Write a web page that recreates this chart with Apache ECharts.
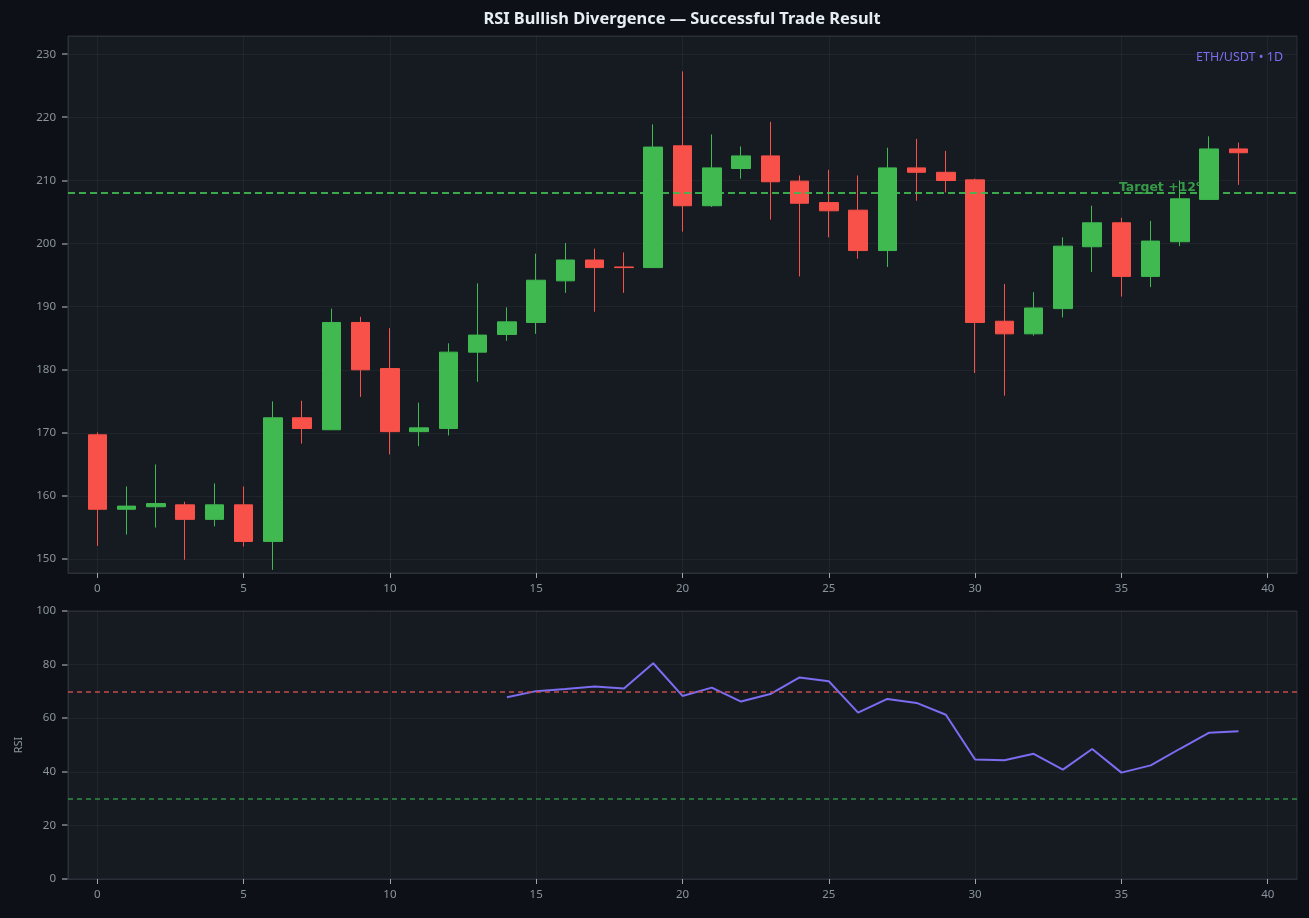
<!DOCTYPE html>
<html>
<head>
<meta charset="utf-8">
<script src="https://cdn.jsdelivr.net/npm/echarts@6/dist/echarts.min.js"></script>
<style>
html,body{margin:0;padding:0;background:#0d1117;}
#c{width:1309px;height:918px;}
</style>
</head>
<body>
<div id="c"></div>
<script>
const days = [0,1,2,3,4,5,6,7,8,9,10,11,12,13,14,15,16,17,18,19,20,21,22,23,24,25,26,27,28,29,30,31,32,33,34,35,36,37,38,39];
const opens  = [169.7,157.9,158.3,158.6,156.3,158.6,152.8,172.4,170.5,187.5,180.2,170.2,170.7,182.8,185.6,187.5,194.1,197.4,196.3,196.2,215.5,206.0,211.9,213.9,209.9,206.5,205.3,198.9,212.0,211.3,210.1,187.7,185.7,189.7,199.5,203.3,194.8,200.3,207.0,215.0];
const closes = [157.9,158.4,158.8,156.3,158.6,152.8,172.4,170.7,187.5,180.0,170.2,170.8,182.8,185.5,187.6,194.2,197.4,196.2,196.2,215.3,206.0,212.0,213.9,209.8,206.4,205.2,198.9,212.0,211.3,210.0,187.5,185.7,189.8,199.6,203.3,194.8,200.4,207.1,215.0,214.4];
const lows   = [152.1,153.9,155.0,149.9,155.2,152.0,148.3,168.3,170.5,175.7,166.6,167.9,169.6,178.1,184.6,185.7,192.2,189.2,192.2,196.2,201.9,205.8,210.3,203.8,194.8,201.0,197.6,196.3,206.8,208.1,179.5,175.9,185.4,188.3,195.5,191.6,193.1,199.6,207.0,209.3];
const highs  = [170.1,161.5,165.0,159.1,162.0,161.5,175.0,175.1,189.7,188.4,186.6,174.8,184.2,193.7,189.9,198.4,200.1,199.2,198.6,218.9,227.3,217.3,215.4,219.3,210.8,211.7,210.8,215.2,216.6,214.7,210.3,193.6,192.3,201.0,206.0,204.1,203.6,210.0,217.0,216.0];
const rsi = [null,null,null,null,null,null,null,null,null,null,null,null,null,null,67.8,70.1,70.9,71.8,71.1,80.5,68.3,71.4,66.2,69.0,75.2,73.8,62.1,67.2,65.7,61.3,44.6,44.3,46.7,40.8,48.5,39.7,42.4,48.6,54.6,55.1];
const priceTicks = [150,160,170,180,190,200,210,220,230];
const dayTicks = [0,5,10,15,20,25,30,35,40];
const rsiTicks = [0,20,40,60,80,100];
const targetPrice = 208;
const targetLabel = 'Target +12%';
const targetLabelX = 35;
const overbought = 70;
const oversold = 30;
const titleText = 'RSI Bullish Divergence — Successful Trade Result';
const pairText = 'ETH/USDT • 1D';

const X_MIN = -1, X_MAX = 41;
const GREEN = '#3fb950', RED = '#f85149', PURPLE = '#7c6cf2';
const LABEL = '#8b949e', TICK = '#a0a6ae', GRIDLINE = 'rgba(255,255,255,0.045)', BORDER = '#2a3039';
const FONT = 'Noto Sans';

const candles = days.map((d,i)=>[d, opens[i], closes[i], lows[i], highs[i]]);
const rsiData = days.map((d,i)=>[d, rsi[i]]).filter(p=>p[1]!==null);

function xAxisCfg(idx){
  return {
    type:'value', gridIndex: idx, min:X_MIN, max:X_MAX, splitNumber:8,
    axisLine:{show:true, onZero:false, lineStyle:{color:BORDER, width:1}},
    axisTick:{show:true, inside:false, length:5, lineStyle:{color:TICK, width:1}, customValues: dayTicks},
    axisLabel:{color:LABEL, fontSize:11.5, fontFamily:FONT, margin:10, customValues: dayTicks},
    splitLine:{show:true, lineStyle:{color:GRIDLINE, width:1}}
  };
}
function yAxisCfg(idx, extra){
  return Object.assign({
    type:'value', gridIndex: idx,
    axisLine:{show:true, onZero:false, lineStyle:{color:BORDER, width:1}},
    axisTick:{show:false},
    axisLabel:{color:LABEL, fontSize:11.5, fontFamily:FONT, margin:12},
    splitLine:{show:true, lineStyle:{color:GRIDLINE}}
  }, extra);
}

const chart = echarts.init(document.getElementById('c'));
const baseGraphic = [
  {id:'title', type:'text', x:682, y:19, style:{text:titleText, textAlign:'center', textVerticalAlign:'middle', fontSize:16.4, fontWeight:'bold', fontFamily:FONT, fill:'#e6edf3'}},
  {id:'pair', type:'text', x:1283, y:57, z:100, style:{text:pairText, textAlign:'right', textVerticalAlign:'middle', fontSize:12.5, fontFamily:FONT, fill:PURPLE}}
];
chart.setOption({
  backgroundColor:'#0d1117',
  animation:false,
  graphic: baseGraphic,
  grid:[
    {left:68, right:12, top:36, height:537, show:true, backgroundColor:'#161b22', borderColor:BORDER, borderWidth:1},
    {left:68, right:12, top:611, height:268, show:true, backgroundColor:'#161b22', borderColor:BORDER, borderWidth:1}
  ],
  xAxis:[xAxisCfg(0), xAxisCfg(1)],
  yAxis:[
    yAxisCfg(0, {min:147.8, max:232.9, splitNumber:8,
      axisLabel:{color:LABEL, fontSize:11.5, fontFamily:FONT, margin:12, customValues: priceTicks}}),
    yAxisCfg(1, {min:0, max:100, interval:20,
      name:'RSI', nameLocation:'middle', nameGap:44, nameRotate:90,
      nameTextStyle:{color:LABEL, fontSize:11, fontFamily:FONT}})
  ],
  series:[
    {
      type:'scatter', xAxisIndex:0, yAxisIndex:0, z:1, silent:true,
      symbolSize:1, itemStyle:{color:'transparent'},
      data:[[targetLabelX, targetPrice]],
      label:{show:true, formatter:targetLabel, position:[-2,-5], align:'left', verticalAlign:'middle',
             color:GREEN, fontSize:12.5, fontWeight:'bold', fontFamily:'DejaVu Sans'},
      markLine:{silent:true, symbol:['none','none'], label:{show:false},
        lineStyle:{color:GREEN, type:[7,4], width:1.8, opacity:0.9},
        data:[{yAxis:targetPrice}]}
    },
    {
      type:'candlestick', xAxisIndex:0, yAxisIndex:0, z:3,
      barWidth:19,
      encode:{x:0, y:[1,2,3,4]},
      data:candles,
      itemStyle:{color:GREEN, color0:RED, borderColor:GREEN, borderColor0:RED, borderWidth:1}
    },
    {
      type:'line', xAxisIndex:1, yAxisIndex:1, z:3,
      data:rsiData, showSymbol:false, symbol:'none',
      lineStyle:{color:PURPLE, width:2},
      markLine:{silent:true, symbol:['none','none'], label:{show:false},
        data:[
          {yAxis:overbought, lineStyle:{color:'#c24b4b', type:[5,4], width:1.5, opacity:1}},
          {yAxis:oversold, lineStyle:{color:'#2f8f45', type:[5,4], width:1.5, opacity:1}}
        ]}
    }
  ]
});

// y-axis tick marks, positioned through the grids' own scales
const tickGraphic = [];
function addTicks(idx, values){
  values.forEach(function(v){
    const p = chart.convertToPixel({gridIndex:idx}, [X_MIN, v]);
    if (!p || !isFinite(p[0]) || !isFinite(p[1])) return;
    const y = Math.round(p[1]);
    const x = Math.round(p[0]);
    tickGraphic.push({type:'rect', z:50, silent:true, shape:{x:x-6, y:y-0.6, width:5.5, height:1.2}, style:{fill:TICK}});
  });
}
addTicks(0, priceTicks);
addTicks(1, rsiTicks);
chart.setOption({graphic: baseGraphic.concat(tickGraphic)}, {replaceMerge:['graphic']});
</script>
</body>
</html>
